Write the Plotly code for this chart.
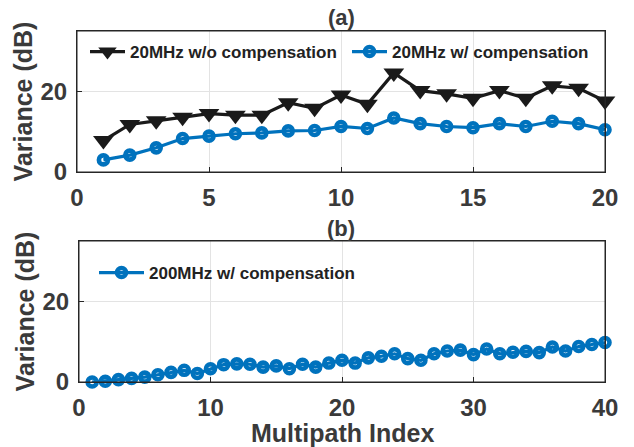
import plotly.graph_objects as go

# ---- data ----
idx_a = list(range(1, 21))
var_wo_20 = [7.8, 11.8, 12.7, 13.6, 14.5, 14.1, 14.1, 17.2, 15.8, 19.1, 16.8, 24.6,
             20.2, 19.4, 18.3, 20.2, 18.3, 21.4, 20.8, 17.6]
var_w_20 = [3.0, 4.2, 6.0, 8.3, 8.9, 9.5, 9.7, 10.2, 10.3, 11.3, 10.8, 13.4,
            12.0, 11.3, 11.0, 12.0, 11.3, 12.6, 12.0, 10.5]
idx_b = list(range(1, 41))
var_w_200 = [0.0, 0.2, 0.6, 0.9, 1.2, 1.8, 2.4, 2.9, 2.1, 3.3,
             4.3, 4.5, 4.4, 3.7, 4.0, 3.3, 4.4, 3.7, 4.7, 5.4,
             4.7, 6.0, 6.4, 7.0, 5.8, 5.4, 7.0, 7.7, 7.9, 6.8,
             8.2, 7.0, 7.4, 7.6, 7.3, 8.7, 7.7, 8.8, 9.3, 9.8]
xticks_a = [0, 5, 10, 15, 20]
xticks_b = [0, 10, 20, 30, 40]
yticks = [0, 20]

W, H = 634, 447
BLACK = "#1a1a1a"
BLUE = "#0072BD"
TXT = "#3a3a3a"
AXC = "#262626"
FONT = "Liberation Sans, Arial, sans-serif"

def px(x):
    return x / W

def py(y):
    return 1 - y / H

circle_marker = dict(symbol="circle-open", size=9, color=BLUE, line=dict(width=4.6, color=BLUE))

fig = go.Figure()
fig.add_trace(go.Scatter(x=idx_a, y=var_wo_20, name="20MHz w/o compensation",
                         mode="lines+markers", xaxis="x", yaxis="y", legend="legend",
                         line=dict(color=BLACK, width=3.2),
                         marker=dict(symbol="triangle-down", size=18, color=BLACK),
                         cliponaxis=False))
fig.add_trace(go.Scatter(x=idx_a, y=var_w_20, name="20MHz w/ compensation",
                         mode="lines+markers", xaxis="x", yaxis="y", legend="legend3",
                         line=dict(color=BLUE, width=3.2), marker=circle_marker,
                         cliponaxis=False))
fig.add_trace(go.Scatter(x=idx_b, y=var_w_200, name="200MHz w/ compensation",
                         mode="lines+markers", xaxis="x2", yaxis="y2", legend="legend2",
                         line=dict(color=BLUE, width=3.2), marker=circle_marker,
                         cliponaxis=False))

tickfont = dict(family=FONT, size=24, color=TXT, weight="bold")
titlefont = dict(family=FONT, size=25, color=TXT, weight="bold")
xaxis_common = dict(showline=True, mirror=True, linecolor=AXC, linewidth=1,
                    showgrid=True, gridcolor="#e3e3e3", gridwidth=1, automargin=False,
                    ticks="inside", ticklen=5, tickcolor=AXC, zeroline=False,
                    tickfont=tickfont, ticklabelstandoff=4)
yaxis_common = dict(showline=True, mirror=True, linecolor=AXC, linewidth=1,
                    showgrid=True, gridcolor="#e3e3e3", gridwidth=1, automargin=False,
                    ticks="inside", ticklen=5, tickcolor=AXC, zeroline=False,
                    tickfont=tickfont, ticklabelstandoff=4,
                    title=dict(text="Variance (dB)", font=titlefont, standoff=0))

legfont = dict(family=FONT, size=17, color="#222222", weight="bold")
leg_common = dict(xanchor="left", yanchor="middle", orientation="h",
                  bgcolor="rgba(0,0,0,0)", font=legfont, visible=True)
fig.update_layout(
    width=W, height=H, margin=dict(l=0, r=0, t=0, b=0, autoexpand=False),
    paper_bgcolor="white", plot_bgcolor="white", showlegend=True,
    font=dict(family=FONT, color=TXT),
    xaxis=dict(domain=[px(77), px(605)], anchor="y", range=[0, 20], tickvals=xticks_a,
               **xaxis_common),
    yaxis=dict(domain=[py(172), py(31)], anchor="x", range=[0, 35], tickvals=yticks,
               **yaxis_common),
    xaxis2=dict(domain=[px(79), px(605)], anchor="y2", range=[0, 40], tickvals=xticks_b,
                **xaxis_common),
    yaxis2=dict(domain=[py(382), py(241)], anchor="x2", range=[0, 35], tickvals=yticks,
                **yaxis_common),
    legend=dict(x=px(85), y=py(52), itemwidth=35, **leg_common),
    legend3=dict(x=px(347), y=py(52), itemwidth=35, **leg_common),
    legend2=dict(x=px(94), y=py(273), itemwidth=45, **leg_common),
    shapes=[
        dict(type="rect", xref="x domain", yref="y domain", x0=0, x1=1, y0=0, y1=1,
             line=dict(color=AXC, width=1), layer="above"),
        dict(type="rect", xref="x2 domain", yref="y2 domain", x0=0, x1=1, y0=0, y1=1,
             line=dict(color=AXC, width=1), layer="above"),
    ],
    annotations=[
        dict(text="(a)", x=px(341), y=py(18), xref="paper", yref="paper",
             xanchor="center", yanchor="middle", showarrow=False,
             font=dict(family=FONT, size=22, color=TXT, weight="bold")),
        dict(text="(b)", x=px(341), y=py(228), xref="paper", yref="paper",
             xanchor="center", yanchor="middle", showarrow=False,
             font=dict(family=FONT, size=22, color=TXT, weight="bold")),
        dict(text="Multipath Index", x=px(342), y=py(433), xref="paper", yref="paper",
             xanchor="center", yanchor="middle", showarrow=False, font=titlefont),
    ],
)
fig.write_html("out.html", config={"displayModeBar": False},
               post_script="document.body.style.margin='0';document.body.style.overflow='hidden';")
